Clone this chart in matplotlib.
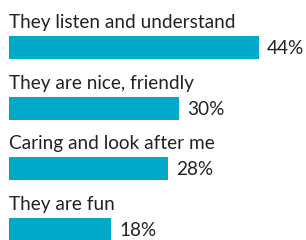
import matplotlib
matplotlib.use("Agg")
import matplotlib.pyplot as plt

labels = ["They listen and understand", "They are nice, friendly",
          "Caring and look after me", "They are fun"]
values = [44, 30, 28, 18]

bar_color = "#00a9c9"
text_color = "#222222"

fig = plt.figure(figsize=(3.06, 2.40), dpi=100)
ax = fig.add_axes([0, 0, 1, 1])

px = 5.68      # pixels per percent
pitch = 60.7   # pixels between bars
ax.set_xlim(-9 / px, (306 - 9) / px)
ax.set_ylim((240 - 47.5) / pitch, -47.5 / pitch)

ypos = list(range(len(values)))
ax.barh(ypos, values, height=23 / pitch, color=bar_color, align="center")

for y, lab, v in zip(ypos, labels, values):
    ax.text(0, y - 19.5 / pitch, lab, fontsize=13.7, color=text_color,
            family="Lato", va="baseline", ha="left")
    ax.text(v + 8 / px, y + 1 / pitch, f"{v}%", fontsize=13.7, color=text_color,
            family="Lato", va="center", ha="left")

ax.axis("off")
fig.savefig("out.png", dpi=100)
